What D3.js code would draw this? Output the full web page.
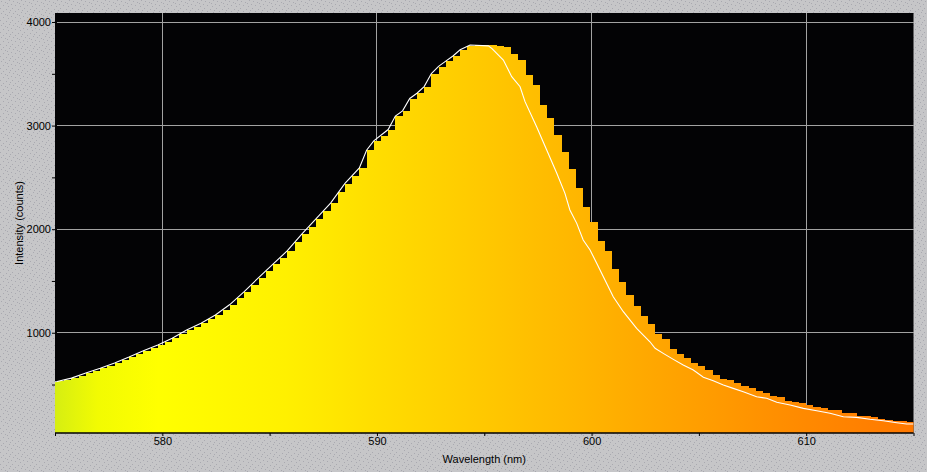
<!DOCTYPE html>
<html><head><meta charset="utf-8">
<script src="https://cdn.jsdelivr.net/npm/d3@7"></script>
<style>html,body{margin:0;padding:0;background:#c6c6c8;} svg{display:block;}</style>
</head><body><svg id="chart" width="927" height="472"></svg>
<script>
// ---------- data ----------
const firstBinStart = 574.759;   // nm, left edge of first spectrometer bin
const binWidth = 0.3354;         // nm
const barIntensity = [
  520,530,545,560,585,610,632,655,680,705,
  733,763,793,825,856,880,912,945,985,1025,
  1060,1090,1130,1170,1215,1270,1335,1395,1460,1530,
  1600,1660,1720,1790,1875,1950,2025,2100,2180,2250,
  2360,2440,2510,2590,2760,2850,2900,2960,3090,3140,
  3260,3310,3375,3500,3570,3620,3670,3730,3772,3778,
  3778,3776,3768,3762,3691,3633,3488,3392,3199,3070,
  2909,2748,2581,2400,2217,2072,1886,1790,1616,1493,
  1365,1259,1162,1084,987,939,843,794,752,710,
  678,640,592,553,543,517,488,463,437,415,
  389,376,343,334,318,302,286,269,254,254,
  222,222,199,199,183,170,157,150,147,134
];
const lineWavelength = [
  575.0,575.094,575.765,576.436,577.107,577.778,578.448,579.119,579.790,580.461,
  581.132,581.802,582.473,583.144,583.815,584.486,585.156,585.827,586.498,587.169,
  587.840,588.510,589.181,589.517,589.852,590.523,590.858,591.194,591.529,591.865,
  592.200,592.536,592.871,593.206,593.542,593.877,594.34,595.19,595.35,595.89,
  596.28,596.67,596.90,597.44,597.91,598.38,598.76,598.99,599.31,599.61,
  599.93,600.24,600.55,601.01,601.48,602.10,602.72,602.96,603.34,603.81,
  604.27,604.74,605.21,605.67,606.14,606.60,607.07,607.69,608.16,608.63,
  609.25,609.87,610.49,611.11,611.73,612.35,612.97,613.59,614.22,614.68,615.0
];
const lineIntensity = [
  527,530,562,612,657,707,765,827,882,947,
  1027,1092,1172,1272,1397,1532,1662,1792,1952,2102,
  2252,2442,2592,2762,2852,2962,3092,3142,3262,3312,
  3377,3502,3572,3622,3672,3732,3778,3770,3746,3633,
  3472,3375,3231,2989,2764,2539,2346,2185,2056,1895,
  1799,1670,1541,1348,1203,1043,913,850,801,743,
  688,640,570,537,495,463,430,382,367,328,
  302,270,247,222,189,183,164,150,131,119,119
];
const xMajorTicks = [580,590,600,610];
const xMinorTicks = [575,585,595,605,615];
const yMajorTicks = [1000,2000,3000,4000];
const yMinorTicks = [500,1500,2500,3500];
const xLabel = "Wavelength (nm)";
const yLabel = "Intensity (counts)";

// ---------- layout ----------
const L = 55, R = 913.5, T = 13, B = 433;
const x = d3.scaleLinear().domain([575, 615]).range([L, R]);
const y = d3.scaleLinear().domain([32, 4087]).range([B, T]);
const font = "'Liberation Sans', Arial, sans-serif";

const svg = d3.select("#chart");
const defs = svg.append("defs");

// stippled background texture
const pat = defs.append("pattern").attr("id","stipple").attr("patternUnits","userSpaceOnUse")
  .attr("width",12).attr("height",12);
pat.append("rect").attr("width",12).attr("height",12).attr("fill","#c6c6c8");
[[1,1],[5,2],[9,0],[3,5],[8,6],[11,4],[0,8],[6,9],[10,10],[3,11],[7,3]].forEach(([px,py])=>{
  pat.append("rect").attr("x",px).attr("y",py).attr("width",1).attr("height",1).attr("fill","#a9a9b0");
});
svg.append("rect").attr("width",927).attr("height",472).attr("fill","url(#stipple)");

// spectral gradient
const grad = defs.append("linearGradient").attr("id","spec").attr("gradientUnits","userSpaceOnUse")
  .attr("x1",L).attr("x2",R).attr("y1",0).attr("y2",0);
[[0,"#d6ee12"],[0.05,"#f2fb02"],[0.12,"#ffff00"],[0.27,"#fff000"],[0.4,"#ffd900"],
 [0.5,"#ffc800"],[0.62,"#ffb400"],[0.75,"#ff9e00"],[0.87,"#ff8a00"],[1,"#ff7800"]]
 .forEach(([o,c])=>grad.append("stop").attr("offset",o).attr("stop-color",c));

defs.append("clipPath").attr("id","plotclip").append("rect")
  .attr("x",L).attr("y",T).attr("width",R-L).attr("height",B-T);

// plot background
svg.append("rect").attr("x",L).attr("y",T).attr("width",R-L).attr("height",B-T).attr("fill","#030305");

// gridlines
const grid = svg.append("g").attr("stroke","#a2a2a2").attr("stroke-width",1).attr("shape-rendering","crispEdges");
grid.selectAll(".vx").data(xMajorTicks).join("line")
  .attr("x1",d=>x(d)).attr("x2",d=>x(d)).attr("y1",T).attr("y2",B);
grid.selectAll(".hy").data(yMajorTicks).join("line")
  .attr("x1",L+2).attr("x2",R).attr("y1",d=>y(d)).attr("y2",d=>y(d));

// bars
const plot = svg.append("g").attr("clip-path","url(#plotclip)");
plot.selectAll("rect.bar").data(barIntensity).join("rect").attr("class","bar")
  .attr("x",(d,i)=>x(firstBinStart + i*binWidth))
  .attr("width",(d,i)=>x(firstBinStart + (i+1)*binWidth) - x(firstBinStart + i*binWidth) + 0.6)
  .attr("y",d=>y(d))
  .attr("height",d=>B - y(d))
  .attr("fill","url(#spec)")
  .attr("shape-rendering","crispEdges");

// white line
const lineData = lineWavelength.map((w,i)=>[w, lineIntensity[i]]);
plot.append("path").datum(lineData)
  .attr("d", d3.line().x(d=>x(d[0])).y(d=>y(d[1])))
  .attr("fill","none").attr("stroke","#ffffff").attr("stroke-width",1.1);

// bottom axis
const xAxis = d3.axisBottom(x).tickValues(xMajorTicks.concat(xMinorTicks)).tickSize(3)
  .tickFormat(d=>xMajorTicks.includes(d) ? d : "");
const gx = svg.append("g").attr("transform",`translate(0,${B})`).call(xAxis);
gx.select(".domain").remove();
gx.selectAll("line").attr("stroke","#000");
gx.selectAll("text").attr("font-family",font).attr("font-size",11).attr("fill","#000").attr("dy","0.65em").attr("y",5);
svg.append("line").attr("x1",L).attr("x2",R).attr("y1",B).attr("y2",B).attr("stroke","#000").attr("stroke-width",1.5);

// left axis
const yAxis = d3.axisLeft(y).tickValues(yMajorTicks.concat(yMinorTicks)).tickSize(3)
  .tickFormat(d=>yMajorTicks.includes(d) ? d : "");
const gy = svg.append("g").attr("transform",`translate(${L},0)`).call(yAxis);
gy.select(".domain").remove();
gy.selectAll("line").attr("stroke","#000");
gy.selectAll("text").attr("font-family",font).attr("font-size",11).attr("fill","#000").attr("x",-4);

// axis titles
svg.append("text").attr("x",(L+R)/2).attr("y",463).attr("text-anchor","middle")
  .attr("font-family",font).attr("font-size",11).attr("fill","#000").text(xLabel);
svg.append("text").attr("transform",`translate(23,${(T+B)/2}) rotate(-90)`).attr("text-anchor","middle")
  .attr("font-family",font).attr("font-size",11).attr("fill","#000").text(yLabel);
</script></body></html>
